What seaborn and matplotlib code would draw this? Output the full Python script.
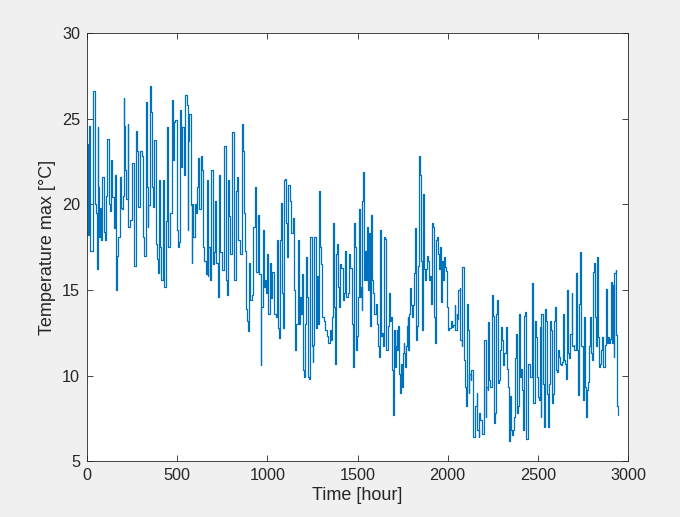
import numpy as np
import pandas as pd
import matplotlib
matplotlib.use("Agg")
import matplotlib.pyplot as plt
import seaborn as sns

# hourly max temperature (turning points only)
hours = [
    0, 4, 8, 11, 18, 33, 44, 48, 54, 59, 63, 67, 72, 78, 85, 92, 100, 106, 113, 120,
    128, 133, 140, 150, 157, 163, 168, 174, 181, 186, 192, 198, 203, 207, 211, 218, 226, 229, 239, 252,
    258, 263, 272, 279, 285, 294, 303, 313, 318, 325, 331, 337, 340, 350, 355, 362, 368, 374, 381, 386,
    392, 401, 406, 411, 420, 425, 429, 438, 444, 451, 461, 470, 475, 479, 483,
    488, 497, 503, 510, 516, 521, 529, 536, 543, 553, 558, 562, 568, 575, 580, 584, 590, 599, 604, 610,
    617, 623, 632, 636, 641, 651, 658, 664, 669, 673, 682, 690, 697, 704, 710, 717, 728, 734, 739, 747,
    758, 762, 769, 776, 784, 789, 795, 806, 813, 817, 826, 832, 839, 849, 858, 863, 869, 876, 880, 887,
    892, 899, 906, 913, 922, 932, 937, 946, 953, 963, 967, 975, 981,
    987, 991, 996, 1005, 1015, 1020, 1028, 1039, 1046, 1052, 1057, 1067, 1070, 1074, 1079, 1085, 1094, 1100, 1105, 1111,
    1116, 1124, 1131, 1140, 1146, 1153, 1159, 1168, 1174, 1179, 1187, 1194, 1200, 1205, 1211, 1216, 1222, 1227, 1233, 1238,
    1246, 1251, 1255, 1261, 1268, 1274, 1279, 1287, 1292, 1298, 1305, 1312, 1320, 1329, 1338, 1346, 1351, 1357, 1362, 1370,
    1375, 1381, 1386, 1392, 1397, 1405, 1410, 1418, 1425, 1433, 1438, 1446, 1455, 1460, 1468, 1475, 1481,
    1486, 1490, 1495, 1501, 1508, 1514, 1519, 1523, 1527, 1532, 1538, 1543, 1549, 1554, 1560, 1566, 1571, 1577, 1582, 1588,
    1593, 1601, 1608, 1615, 1621, 1627, 1632, 1638, 1643, 1649, 1654, 1660, 1667, 1673, 1678, 1686, 1691, 1695, 1700, 1706,
    1712, 1717, 1721, 1726, 1732, 1737, 1741, 1745, 1750, 1756, 1760, 1763, 1767, 1773, 1778, 1782, 1787, 1793, 1798, 1804,
    1810, 1815, 1821, 1824, 1830, 1835, 1841, 1847, 1850, 1856, 1860, 1865, 1871, 1876, 1882, 1887, 1893, 1898, 1904, 1909,
    1915, 1921, 1926, 1932, 1937, 1943, 1948, 1954, 1959, 1963, 1969, 1974, 1980,
    1986, 1992, 1995, 2001, 2004, 2010, 2016, 2023, 2032, 2038, 2043, 2049, 2054, 2060, 2066, 2071, 2077, 2082, 2088, 2091,
    2097, 2102, 2108, 2114, 2117, 2121, 2127, 2132, 2138, 2143, 2149, 2154, 2160, 2165, 2171, 2176, 2182, 2188, 2193, 2199,
    2204, 2210, 2215, 2221, 2226, 2232, 2237, 2245, 2250, 2256, 2261, 2267, 2274, 2280, 2286, 2291, 2297, 2302, 2308, 2313,
    2319, 2324, 2330, 2335, 2341, 2347, 2352, 2356, 2361, 2367, 2372, 2378, 2384, 2389, 2395, 2400, 2406, 2411, 2417, 2422,
    2428, 2432, 2437, 2443, 2448, 2454, 2459, 2465, 2470, 2476, 2482,
    2491, 2494, 2500, 2505, 2511, 2515, 2520, 2526, 2531, 2535, 2540, 2546, 2550, 2555, 2561, 2566, 2572, 2577, 2583, 2589,
    2594, 2600, 2605, 2611, 2616, 2622, 2627, 2633, 2638, 2644, 2650, 2655, 2661, 2664, 2670, 2675, 2681, 2687, 2692, 2698,
    2703, 2709, 2714, 2720, 2725, 2731, 2736, 2742, 2748, 2753, 2757, 2762, 2768, 2773, 2779, 2785, 2790, 2796, 2801, 2807,
    2812, 2818, 2823, 2829, 2834, 2840, 2846, 2851, 2857, 2862, 2868, 2873, 2879, 2884, 2890, 2895, 2901, 2907, 2912, 2916,
    2921, 2925, 2931, 2934, 2938, 2942,
]

temp_max = [
    18.3, 23.5, 18.2, 24.6, 17.3, 26.6, 20.0, 19.5, 16.2, 24.5, 21.0, 18.1, 19.8, 17.9, 21.6, 18.4, 17.9, 20.5, 23.8, 20.0,
    19.6, 22.6, 20.4, 18.6, 21.7, 15.0, 17.0, 18.1, 21.6, 19.8, 19.7, 20.5, 26.2, 24.6, 22.0, 20.3, 24.7, 18.7, 19.1, 22.4,
    19.5, 16.4, 24.3, 23.1, 19.85, 23.1, 22.8, 18.1, 17.0, 26.0, 21.0, 18.7, 19.95, 26.9, 25.4, 21.0, 19.85, 23.75, 17.7, 16.8,
    15.96, 21.4, 17.5, 15.6, 21.4, 17.0, 15.2, 19.0, 24.5, 17.5, 19.5, 26.1, 25.6, 22.6, 24.8,
    24.9, 18.5, 17.5, 17.8, 25.5, 22.2, 24.5, 21.7, 26.4, 25.8, 18.5, 23.7, 25.3, 19.95, 16.6, 20.0, 18.1, 20.0, 19.5, 21.0,
    22.7, 19.7, 22.8, 22.0, 17.5, 16.7, 15.95, 21.4, 15.8, 17.5, 15.6, 22.0, 16.5, 17.2, 20.2, 16.6, 14.6, 21.7, 17.2, 16.15,
    22.4, 23.4, 15.6, 14.7, 21.4, 19.3, 17.1, 24.2, 24.1, 15.6, 20.8, 21.6, 17.9, 17.1, 24.7, 23.1, 19.5, 17.3, 13.9, 13.2,
    12.6, 16.6, 14.4, 14.7, 18.7, 21.0, 16.05, 19.4, 15.95, 10.6, 14.0, 18.5, 15.2,
    15.6, 14.8, 17.1, 13.6, 16.6, 14.5, 16.05, 13.6, 13.4, 17.9, 12.8, 12.2, 17.9, 20.1, 14.8, 12.8, 21.4, 21.5, 18.9, 16.9,
    21.1, 20.2, 18.3, 19.2, 15.0, 11.5, 13.0, 17.9, 13.0, 14.6, 13.6, 15.95, 10.3, 9.9, 13.0, 16.9, 14.6, 9.9, 9.8, 18.1,
    11.7, 10.8, 11.8, 18.1, 12.8, 15.8, 13.0, 20.8, 17.5, 16.5, 13.4, 13.2, 12.65, 12.3, 11.9, 12.65, 12.1, 13.4, 18.9, 14.0,
    10.7, 17.1, 17.7, 15.2, 14.0, 16.5, 16.3, 14.4, 14.8, 17.3, 14.6, 14.8, 17.1, 16.3, 13.0, 10.5, 18.9,
    17.5, 11.5, 12.3, 14.6, 19.7, 14.6, 15.2, 13.8, 20.2, 21.9, 15.6, 17.3, 15.6, 18.7, 15.0, 18.3, 12.9, 19.4, 15.6, 14.8,
    13.6, 14.2, 13.0, 11.7, 11.1, 18.5, 12.3, 12.5, 11.7, 18.1, 18.0, 11.5, 12.9, 14.8, 13.2, 13.4, 10.3, 7.7, 12.65, 10.5,
    11.7, 12.65, 11.5, 12.9, 10.1, 9.0, 10.7, 9.35, 11.3, 11.9, 11.3, 10.5, 11.7, 12.9, 13.4, 11.5, 13.6, 15.1, 14.1, 13.4,
    14.1, 16.0, 18.6, 12.1, 12.9, 16.4, 22.8, 21.7, 16.7, 16.6, 12.65, 20.6, 16.2, 15.6, 16.2, 17.0, 16.7, 15.6, 15.8, 14.2,
    18.9, 18.7, 13.4, 11.9, 17.9, 18.1, 17.1, 16.2, 17.5, 14.3, 16.7, 15.6, 16.9,
    16.35, 16.1, 14.0, 13.4, 12.65, 12.75, 13.2, 12.85, 12.95, 14.1, 12.65, 13.6, 13.3, 15.0, 15.1, 12.1, 11.7, 16.35, 16.35, 10.9,
    9.35, 8.2, 14.2, 12.65, 9.0, 10.1, 9.75, 10.3, 6.8, 6.4, 7.0, 8.2, 9.0, 6.8, 6.4, 7.8, 7.4, 7.2, 6.6, 7.8,
    12.1, 7.6, 9.35, 9.15, 13.1, 9.75, 9.35, 14.7, 13.5, 7.2, 7.8, 13.6, 14.4, 9.55, 9.75, 11.5, 12.85, 12.1, 10.6, 11.3,
    11.3, 12.85, 10.4, 9.35, 6.2, 8.8, 6.8, 6.5, 6.8, 7.6, 11.0, 12.45, 7.8, 8.2, 13.6, 9.9, 10.4, 9.15, 6.8, 13.5,
    13.7, 9.35, 6.3, 9.0, 10.7, 10.5, 9.9, 10.1, 15.4, 8.4, 13.2,
    12.26, 9.9, 8.75, 8.56, 12.84, 7.6, 13.6, 9.7, 9.5, 7.0, 13.9, 13.2, 8.95, 7.0, 9.5, 13.2, 12.65, 8.4, 8.95, 13.2,
    14.0, 10.3, 10.2, 11.5, 11.1, 10.7, 10.6, 10.8, 13.6, 10.9, 10.7, 9.8, 12.65, 14.98, 11.3, 11.0, 12.45, 14.8, 11.7, 11.8,
    11.5, 14.9, 15.96, 11.5, 8.85, 14.2, 17.2, 11.7, 10.1, 8.56, 13.4, 9.34, 7.6, 9.15, 9.6, 11.7, 13.4, 11.3, 10.9, 16.06,
    16.55, 13.4, 11.7, 16.9, 12.26, 10.5, 10.7, 11.5, 12.26, 10.5, 10.5, 11.8, 15.08, 11.9, 12.26, 11.9, 12.16, 15.47, 11.9, 15.3,
    11.1, 15.96, 16.15, 12.36, 8.2, 7.7,
]

x_ticks = [0, 500, 1000, 1500, 2000, 2500, 3000]
y_ticks = [5, 10, 15, 20, 25, 30]

assert len(hours) == len(temp_max), (len(hours), len(temp_max))
df = pd.DataFrame({"hour": hours, "temp": temp_max})

sns.set_style("ticks")
plt.rcParams['font.family'] = ['Liberation Sans', 'DejaVu Sans']

fig = plt.figure(figsize=(6.8, 5.17), dpi=100, facecolor='#F0F0F0')
ax = fig.add_axes([0.128, 0.108, 0.7955, 0.828])
ax.set_facecolor('white')

sns.lineplot(data=df, x="hour", y="temp", ax=ax, color='#0072BD', linewidth=0.9,
             drawstyle='steps-post', estimator=None, sort=False)

ax.set_xlim(0, 3000)
ax.set_ylim(5, 30)
ax.set_xticks(x_ticks)
ax.set_yticks(y_ticks)
ax.tick_params(direction='in', length=4, width=0.6, top=True, right=True,
               labelsize=11.7, colors='#262626', pad=5)
for sp in ax.spines.values():
    sp.set_visible(True)
    sp.set_color('#262626')
    sp.set_linewidth(0.6)

ax.set_xlabel('Time [hour]', fontsize=13, color='#262626', labelpad=3)
ax.set_ylabel('Temperature max [°C]', fontsize=13, color='#262626', labelpad=4)

fig.savefig('out.png', dpi=100, facecolor=fig.get_facecolor())
